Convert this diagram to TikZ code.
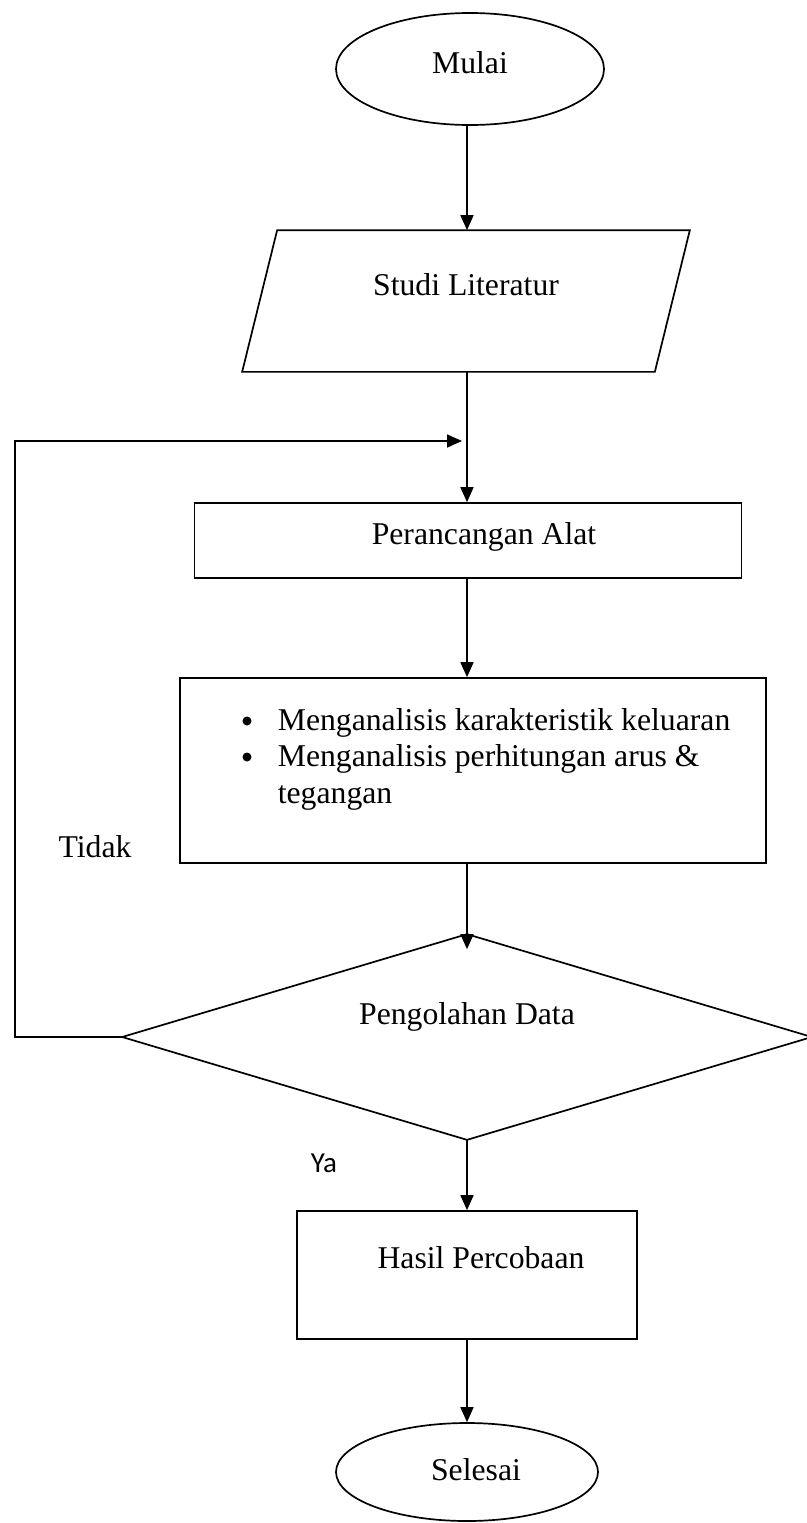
\documentclass[tikz,border=0pt]{standalone}
\usepackage{fontspec}
\setmainfont{Liberation Serif}
\newfontfamily\yafont{Carlito}
\usetikzlibrary{shapes.geometric,arrows.meta,calc}
\begin{document}
\begin{tikzpicture}[x=1pt,y=-1pt,
  line width=1.7pt,
  box/.style={draw,rectangle,inner sep=0pt},
  ghost/.style={rectangle,inner sep=0pt},
  term/.style={draw,ellipse,inner sep=0pt},
  lbl/.style={inner sep=0pt,font=\fontsize{31.7}{36}\selectfont},
  itm/.style={lbl,anchor=base west},
  dot/.style={circle,fill,inner sep=0pt,minimum size=9pt},
  conn/.style={-{Triangle[length=15pt,width=13pt]}},
]
\useasboundingbox (0,0) rectangle (806,1523);
% nodes
\node[term,minimum width=268pt,minimum height=112pt] (start) at (470,69) {};
\node[lbl] (startT) at (470,63) {Mulai};

\node[ghost,minimum width=446pt,minimum height=140pt] (lit) at (466,301) {};
\draw ($(lit.north west)+(35,0)$) -- (lit.north east) -- ($(lit.south east)+(-35,0)$) -- (lit.south west) -- cycle;
\node[lbl] (litT) at (466,285) {Studi Literatur};

\node[box,minimum width=547pt,minimum height=75pt] (perc) at (468,540.5) {};
\node[lbl] (percT) at (484,537) {Perancangan Alat};

\node[box,minimum width=586pt,minimum height=185pt] (big) at (473,770.5) {};
\node[dot] (b1) at (247,721) {};
\node[itm] (i1) at (277,730) {Menganalisis karakteristik keluaran};
\node[dot] (b2) at (247,757) {};
\node[itm] (i2) at (277,766) {Menganalisis perhitungan arus \&};
\node[itm] (i3) at (277,803) {tegangan};

\node[ghost,minimum width=688pt,minimum height=204pt] (dec) at (467,1037) {};
\draw (dec.north) -- (dec.east) -- (dec.south) -- (dec.west) -- cycle;
\node[lbl] (decT) at (467,1017) {Pengolahan Data};

\node[box,minimum width=340pt,minimum height=128pt] (hasil) at (467,1275) {};
\node[lbl] (hasilT) at (481,1258) {Hasil Percobaan};

\node[term,minimum width=262pt,minimum height=98pt] (end) at (467,1472) {};
\node[lbl] (endT) at (476,1470) {Selesai};

\node[lbl] (tidak) at (95,847) {Tidak};
\node[inner sep=0pt,font=\yafont\fontsize{29}{34}\selectfont] (ya) at (324,1163) {Ya};

% connectors
\draw[conn] (start.south -| dec.north) -- (lit.north -| dec.north);
\draw[conn] (lit.south -| dec.north) -- (perc.north -| dec.north);
\draw[conn] (perc.south -| dec.north) -- (big.north -| dec.north);
\draw[conn] (big.south -| dec.north) -- ($(dec.north)+(0,15)$);
\draw[conn] (dec.south) -- (hasil.north);
\draw[conn] (hasil.south) -- (end.north);
\coordinate (loopB) at (15,441);
\coordinate (loopEnd) at (462,441);
\draw[conn] (dec.west) -- (dec.west -| loopB) -- (loopB) -- (loopEnd);
\end{tikzpicture}
\end{document}
